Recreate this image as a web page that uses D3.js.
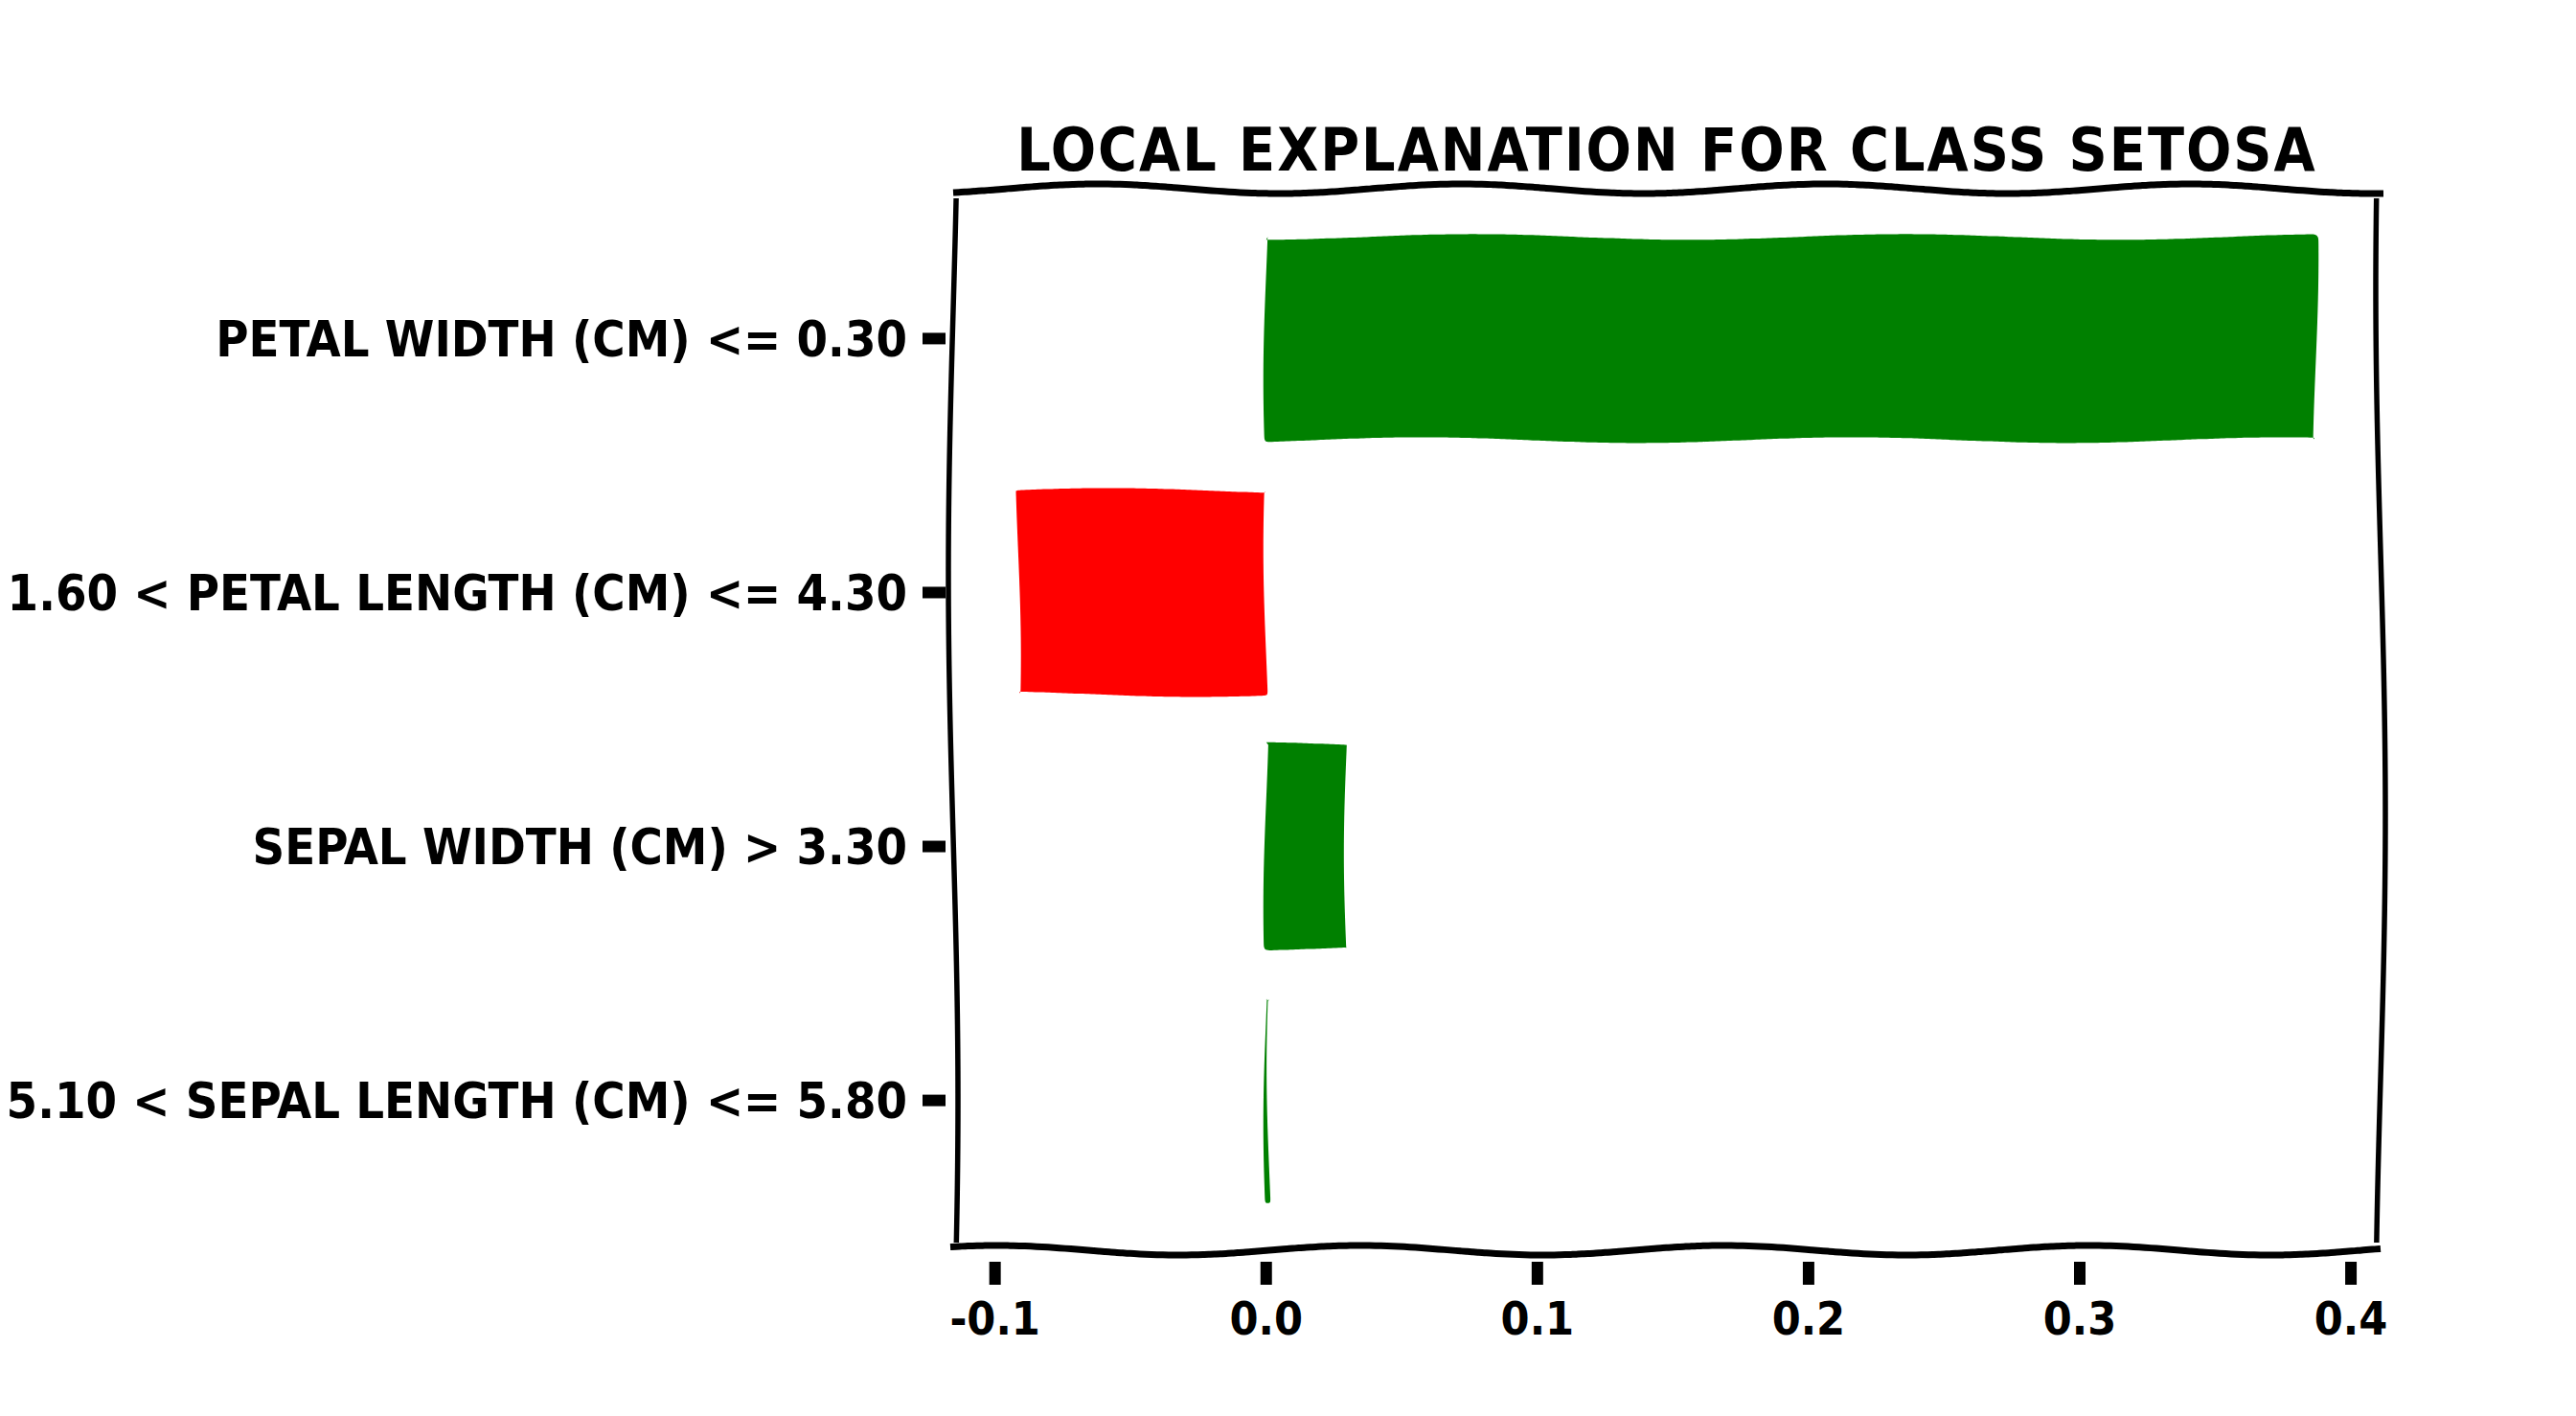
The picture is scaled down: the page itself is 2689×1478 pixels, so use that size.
<!DOCTYPE html>
<html>
<head>
<meta charset="utf-8">
<script src="https://cdn.jsdelivr.net/npm/d3@7"></script>
<style>
  body { margin: 0; background: #fff; }
  text { font-family: "DejaVu Sans Condensed", "DejaVu Sans", sans-serif; font-weight: bold; fill: #000; }
</style>
</head>
<body>
<div id="chart"></div>
<script>
// chart data, top to bottom as drawn
const features = [
  "petal width (cm) <= 0.30",
  "1.60 < petal length (cm) <= 4.30",
  "sepal width (cm) > 3.30",
  "5.10 < sepal length (cm) <= 5.80"
];
const weights = [0.387, -0.0915, 0.0297, 0.0012];
const xTicks = [-0.1, 0.0, 0.1, 0.2, 0.3, 0.4];
const title = "Local explanation for class setosa";

const w = 2689;
const h = 1478;
const axLeft = 995, axRight = 2485, axTop = 197, axBottom = 1305;

const svg = d3.select("#chart").append("svg")
    .attr("width", w)
    .attr("height", h);

// matplotlib style 5% margins
const lo = Math.min(0, d3.min(weights)), hi = Math.max(0, d3.max(weights));
const pad = (hi - lo) * 0.05;
const xScale = d3.scaleLinear()
    .domain([lo - pad, hi + pad])
    .range([axLeft, axRight]);

const yScale = d3.scaleBand()
    .domain(features)
    .range([axTop, axBottom])
    .paddingInner(0.2)
    .paddingOuter(0.19);

// xkcd-ish wobbly polyline
let seed = 0;
function wobble(pts, amp, wl, closed) {
  seed += 1;
  const phase = seed * 1.7;
  const out = [];
  let dist = 0;
  const segs = closed ? pts.length : pts.length - 1;
  for (let i = 0; i < segs; i++) {
    const a = pts[i], b = pts[(i + 1) % pts.length];
    const dx = b[0] - a[0], dy = b[1] - a[1];
    const len = Math.hypot(dx, dy);
    const nx = -dy / len, ny = dx / len;
    const n = Math.max(2, Math.ceil(len / 6));
    for (let k = 0; k <= n; k++) {
      const t = k / n;
      const s = dist + t * len;
      const off = amp * Math.sin(2 * Math.PI * s / wl + phase);
      out.push([a[0] + dx * t + nx * off, a[1] + dy * t + ny * off]);
    }
    dist += len;
  }
  return d3.line().curve(d3.curveBasis)(out) + (closed ? "Z" : "");
}

// bars
svg.selectAll(".bar")
    .data(features)
    .enter()
    .append("path")
    .attr("class", "bar")
    .attr("fill", (d, i) => weights[i] > 0 ? "#008000" : "#ff0000")
    .attr("d", function (d, i) {
      const x0 = xScale(Math.min(0, weights[i]));
      const x1 = xScale(Math.max(0, weights[i]));
      const y0 = yScale(d), y1 = yScale(d) + yScale.bandwidth();
      return wobble([[x0, y0], [x1, y0], [x1, y1], [x0, y1]], 3, 450, true);
    });

// spines
const spine = svg.append("g").attr("fill", "none").attr("stroke", "#000").attr("stroke-linecap", "butt");
spine.append("path").attr("stroke-width", 7).attr("d", wobble([[axLeft, axTop], [axRight + 3, axTop]], 5, 380, false));
spine.append("path").attr("stroke-width", 7).attr("d", wobble([[axLeft - 3, axBottom], [axRight, axBottom]], 5, 380, false));
spine.append("path").attr("stroke-width", 5.5).attr("d", wobble([[axLeft, axTop + 10], [axLeft, axBottom - 8]], 5, 1100, false));
spine.append("path").attr("stroke-width", 5.5).attr("d", wobble([[axRight, axTop + 10], [axRight, axBottom - 8]], 5, 1100, false));

// x ticks
const xt = svg.selectAll(".xtick")
    .data(xTicks)
    .enter().append("g")
    .attr("class", "xtick");

xt.append("path")
    .attr("stroke", "#000")
    .attr("stroke-width", 12)
    .attr("d", (d) => "M" + xScale(d) + "," + (axBottom + 12) + "V" + (axBottom + 36));

xt.append("text")
    .attr("x", (d) => xScale(d))
    .attr("y", axBottom + 88)
    .attr("text-anchor", "middle")
    .style("font-size", "48px")
    .text((d) => d3.format(".1f")(d).replace("\u2212", "-"));

// y ticks
const yt = svg.selectAll(".ytick")
    .data(features)
    .enter().append("g")
    .attr("class", "ytick");

yt.append("path")
    .attr("stroke", "#000")
    .attr("stroke-width", 12)
    .attr("d", (d) => {
      const y = yScale(d) + yScale.bandwidth() / 2;
      return "M" + (axLeft - 32) + "," + y + "H" + (axLeft - 8);
    });

yt.append("text")
    .attr("x", axLeft - 48)
    .attr("y", (d) => yScale(d) + yScale.bandwidth() / 2)
    .attr("dy", "0.36em")
    .attr("text-anchor", "end")
    .style("font-size", "52px")
    .text((d) => d.toUpperCase());

// title
svg.append("text")
    .attr("x", (axLeft + axRight) / 2)
    .attr("y", axTop - 19)
    .attr("text-anchor", "middle")
    .style("font-size", "62px")
    .style("letter-spacing", "2px")
    .text(title.toUpperCase());
</script>
</body>
</html>
